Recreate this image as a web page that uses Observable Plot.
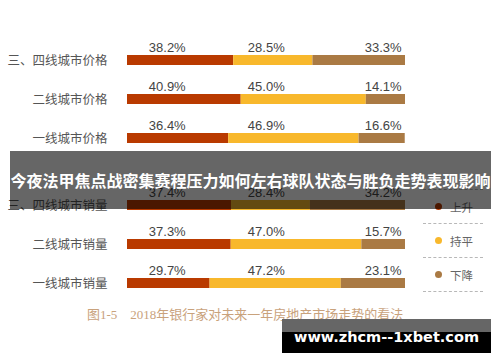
<!DOCTYPE html>
<html>
<head>
<meta charset="utf-8">
<script src="https://cdn.jsdelivr.net/npm/d3@7"></script>
<script src="https://cdn.jsdelivr.net/npm/@observablehq/plot@0.6"></script>
<style>
  html, body { margin: 0; padding: 0; background: #fff; }
  #wrap { position: relative; width: 500px; height: 362px; overflow: hidden;
    font-family: "Liberation Sans", "Noto Sans CJK SC", sans-serif; }
  #wrap svg { position: absolute; left: 0; top: 0; }
  .legend { position: absolute; left: 423px; top: 189px; width: 60px; }
  .legend .sep { border-top: 1px dashed #b8b8b8; height: 0; }
  .legend .item { height: 33px; display: flex; align-items: center; font-size: 11.5px; color: #666;
    font-family: "Noto Sans CJK SC", sans-serif; }
  .legend .dot { width: 7px; height: 7px; border-radius: 50%; margin-left: 12px; margin-right: 8px; }
  .caption { position: absolute; left: 87px; top: 304px; font-size: 13px; color: #c9a27c; white-space: pre;
    font-family: "Liberation Serif", "Noto Sans CJK SC", serif; }
  .banner { position: absolute; left: 10px; top: 151px; width: 481px; height: 58px; background: rgba(0,0,0,0.6);
    color: #fff; font-weight: bold; font-size: 16px; line-height: 58px; text-align: center;
    font-family: "Noto Sans CJK SC", sans-serif; white-space: nowrap; }
  .wm-top { position: absolute; left: 282px; top: 319px; width: 209px; height: 13px; background: #666; }
  .wm { position: absolute; left: 282px; top: 332px; width: 209px; height: 21px; background: #000; }
  .wm-text { position: absolute; left: 282px; top: 326px; width: 209px; height: 22px; line-height: 22px;
    color: #fff; font-weight: bold; font-size: 14.5px; text-align: center; font-family: "DejaVu Sans", sans-serif; }
</style>
</head>
<body>
<div id="wrap"></div>
<script>
// ---- data ----
const groups = ["价格", "销量"];
const tiers = ["三、四线城市", "二线城市", "一线城市"];
const statuses = ["上升", "持平", "下降"];
const statusColors = ["#b93a00", "#f8b82c", "#aa7a44"];
const rise = [38.2, 40.9, 36.4, 37.4, 37.3, 29.7];
const flat = [28.5, 45.0, 46.9, 28.4, 47.0, 47.2];
const fall = [33.3, 14.1, 16.6, 34.2, 15.7, 23.1];
const captionText = "图1-5　2018年银行家对未来一年房地产市场走势的看法";
const bannerText = "今夜法甲焦点战密集赛程压力如何左右球队状态与胜负走势表现影响";
const watermarkText = "www.zhcm--1xbet.com";

// ---- tables built from the arrays ----
const rows = rise.map((r, i) => ({
  group: groups[Math.floor(i / 3)],
  tier: tiers[i % 3],
  label: tiers[i % 3] + groups[Math.floor(i / 3)],
  rise: r, flat: flat[i], fall: fall[i]
}));
const segs = rows.flatMap(d => [
  {group: d.group, tier: d.tier, status: statuses[0], value: d.rise},
  {group: d.group, tier: d.tier, status: statuses[1], value: d.flat},
  {group: d.group, tier: d.tier, status: statuses[2], value: d.fall}
]);
const fmt = v => v.toFixed(1) + "%";

const chart = Plot.plot({
  width: 500,
  height: 362,
  marginTop: 38,
  marginBottom: 58,
  marginLeft: 127,
  marginRight: 95,
  style: {fontFamily: "Liberation Sans, Noto Sans CJK SC, sans-serif", background: "transparent"},
  x: {domain: [0, 100], axis: null},
  y: {domain: tiers, axis: null, paddingInner: 0.75, paddingOuter: 0.375},
  fy: {domain: groups, axis: null, paddingInner: 0.178, paddingOuter: 0},
  color: {domain: statuses, range: statusColors},
  marks: [
    Plot.barX(segs, Plot.stackX({x: "value", y: "tier", fy: "group", fill: "status", order: statuses})),
    Plot.text(rows, {y: "tier", fy: "group", text: "label", frameAnchor: "left", dx: -20,
      textAnchor: "end", fill: "#555", fontSize: 12.5, fontFamily: "Noto Sans CJK SC, sans-serif"}),
    Plot.text(rows, {x: () => 14.3, y: "tier", fy: "group", text: d => fmt(d.rise), dy: -13,
      textAnchor: "middle", fill: "#444", fontSize: 13}),
    Plot.text(rows, {x: () => 43.3, y: "tier", fy: "group", text: d => fmt(d.flat), dy: -13,
      textAnchor: "start", fill: "#444", fontSize: 13}),
    Plot.text(rows, {x: () => 98.6, y: "tier", fy: "group", text: d => fmt(d.fall), dy: -13,
      textAnchor: "end", fill: "#444", fontSize: 13})
  ]
});

const wrap = document.getElementById("wrap");
wrap.appendChild(chart);

// legend
const legend = document.createElement("div");
legend.className = "legend";
let html = '<div class="sep"></div>';
statuses.forEach((s, i) => {
  html += `<div class="item"><span class="dot" style="background:${statusColors[i]}"></span>${s}</div><div class="sep"></div>`;
});
legend.innerHTML = html;
wrap.appendChild(legend);

// caption
const cap = document.createElement("div");
cap.className = "caption";
cap.textContent = captionText;
wrap.appendChild(cap);

// overlay banner
const banner = document.createElement("div");
banner.className = "banner";
banner.textContent = bannerText;
wrap.appendChild(banner);

// watermark
const wt = document.createElement("div"); wt.className = "wm-top"; wrap.appendChild(wt);
const wm = document.createElement("div"); wm.className = "wm"; wrap.appendChild(wm);
const wmt = document.createElement("div"); wmt.className = "wm-text"; wmt.textContent = watermarkText; wrap.appendChild(wmt);
</script>
</body>
</html>
